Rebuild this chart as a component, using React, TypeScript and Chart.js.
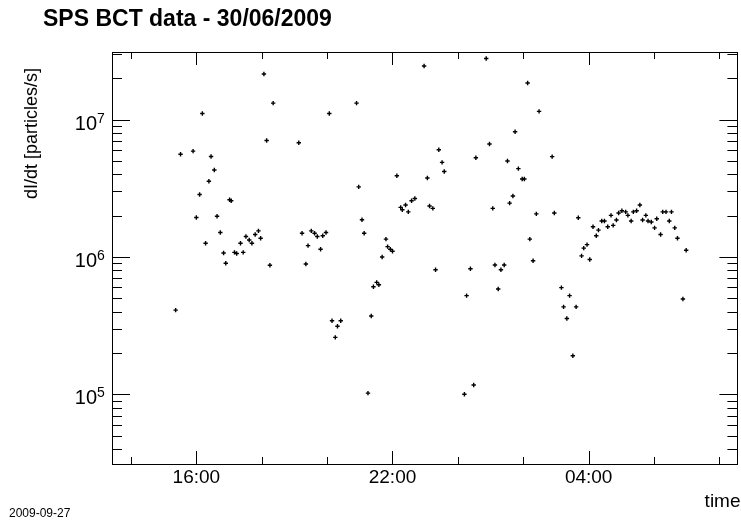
import React, { useEffect, useRef } from 'react';
import { Chart, registerables } from 'chart.js';

Chart.register(...registerables);

const TITLE = 'SPS BCT data - 30/06/2009';
const Y_TITLE = 'dI/dt [particles/s]';
const X_TITLE = 'time';
const DATE_STAMP = '2009-09-27';

// measurement times (30/06 -> 01/07, wraps past midnight)
const times = [
  '15:22', '15:31', '15:54', '16:00', '16:06', '16:11', '16:17', '16:23', '16:27', '16:33',
  '16:38', '16:44', '16:50', '16:54', '17:01', '17:04', '17:10', '17:14', '17:21', '17:26',
  '17:31', '17:37', '17:42', '17:48', '17:54', '17:58', '18:04', '18:09', '18:15', '18:21',
  '19:08', '19:14', '19:21', '19:25', '19:31', '19:37', '19:42', '19:48', '19:52', '19:58',
  '20:04', '20:09', '20:15', '20:19', '20:25', '20:54', '20:58', '21:04', '21:08', '21:15',
  '21:21', '21:25', '21:31', '21:35', '21:41', '21:48', '21:51', '21:56', '22:00', '22:08',
  '22:15', '22:18', '22:24', '22:29', '22:35', '22:41', '22:58', '23:04', '23:08', '23:14',
  '23:19', '23:25', '23:31', '23:35', '00:12', '00:16', '00:23', '00:29', '00:33', '00:52',
  '00:58', '01:04', '01:08', '01:14', '01:19', '01:25', '01:31', '01:35', '01:41', '01:45',
  '01:51', '01:58', '02:02', '02:08', '02:12', '02:18', '02:24', '02:29', '02:53', '02:57',
  '03:10', '03:14', '03:20', '03:25', '03:31', '03:37', '03:41', '03:47', '03:51', '03:57',
  '04:02', '04:08', '04:14', '04:18', '04:24', '04:29', '04:35', '04:41', '04:45', '04:51',
  '04:55', '05:01', '05:08', '05:12', '05:18', '05:22', '05:28', '05:34', '05:39', '05:45',
  '05:49', '05:55', '06:01', '06:05', '06:12', '06:16', '06:22', '06:28', '06:32', '06:38',
  '06:43', '06:53', '06:59',
];

// dI/dt values [particles/s]
const values = [
  4.1e5, 5.6e6, 5.9e6, 1.94e6, 2.85e6, 1.11e7, 1.26e6, 3.56e6, 5.4e6, 4.3e6,
  1.98e6, 1.51e6, 1.07e6, 9.0e5, 2.61e6, 2.57e6, 1.08e6, 1.06e6, 1.26e6, 1.08e6,
  1.41e6, 1.33e6, 1.26e6, 1.46e6, 1.55e6, 1.37e6, 2.15e7, 7.06e6, 8.7e5, 1.32e7,
  6.8e6, 1.49e6, 8.9e5, 1.21e6, 1.55e6, 1.49e6, 1.41e6, 1.14e6, 1.43e6, 1.51e6,
  1.11e7, 3.43e5, 2.6e5, 3.13e5, 3.43e5, 1.32e7, 3.24e6, 1.87e6, 1.49e6, 1.02e5,
  3.72e5, 6.08e5, 6.53e5, 6.28e5, 1.0e6, 1.35e6, 1.19e6, 1.14e6, 1.1e6, 3.91e6,
  2.3e6, 2.21e6, 2.39e6, 2.13e6, 2.57e6, 2.67e6, 2.46e7, 3.76e6, 2.35e6, 2.26e6,
  8.08e5, 6.04e6, 4.89e6, 4.2e6, 1.0e5, 5.23e5, 8.22e5, 1.17e5, 5.28e6, 2.79e7,
  6.65e6, 2.26e6, 8.74e5, 5.85e5, 8.08e5, 8.74e5, 5.0e6, 2.47e6, 2.78e6, 8.18e6,
  4.4e6, 3.7e6, 3.7e6, 1.85e7, 1.35e6, 9.4e5, 2.06e6, 1.15e7, 5.38e6, 2.09e6,
  5.98e5, 4.33e5, 3.57e5, 5.23e5, 1.91e5, 4.33e5, 1.93e6, 1.02e6, 1.16e6, 1.23e6,
  9.6e5, 1.66e6, 1.43e6, 1.57e6, 1.83e6, 1.83e6, 1.66e6, 2.01e6, 1.7e6, 1.86e6,
  2.09e6, 2.17e6, 2.13e6, 2.01e6, 1.83e6, 2.13e6, 2.17e6, 2.39e6, 1.86e6, 2.01e6,
  1.83e6, 1.8e6, 1.63e6, 1.9e6, 1.46e6, 2.13e6, 2.13e6, 1.83e6, 2.13e6, 1.63e6,
  1.37e6, 4.94e5, 1.12e6,
];

// axis ranges (hours since 00:00 on 30/06; values in particles/s)
const X_MIN = 13.42;
const X_MAX = 32.55;
const Y_MIN = 3.108e4;
const Y_MAX = 3.112e7;
const X_MAJOR_HOURS = [16, 22, 28];
const X_MINOR_STEP = 2;
const Y_DECADES = [5, 6, 7];

const FONT = '"Liberation Sans", Arial, Helvetica, sans-serif';

function toHours(list: string[]): number[] {
  let day = 0;
  let prev = -Infinity;
  return list.map((t) => {
    const [h, m] = t.split(':').map(Number);
    let v = h + m / 60 + day * 24;
    if (v < prev) {
      day += 1;
      v += 24;
    }
    prev = v;
    return v;
  });
}

function fmtHour(v: number): string {
  const h = ((Math.round(v) % 24) + 24) % 24;
  return (h < 10 ? '0' : '') + h + ':00';
}

const rootPlugin = {
  id: 'rootStyle',
  afterDraw(chart: any) {
    const { ctx, chartArea: a, scales } = chart;
    const xs = scales.x;
    const ys = scales.y;
    ctx.save();
    ctx.strokeStyle = '#000';
    ctx.fillStyle = '#000';
    ctx.lineWidth = 1;

    // frame
    ctx.strokeRect(Math.round(a.left) + 0.5, Math.round(a.top) + 0.5,
      Math.round(a.right - a.left), Math.round(a.bottom - a.top));

    // x ticks (bottom and top, inward)
    ctx.beginPath();
    for (let h = Math.ceil(X_MIN / X_MINOR_STEP) * X_MINOR_STEP; h <= X_MAX; h += X_MINOR_STEP) {
      const px = Math.round(xs.getPixelForValue(h)) + 0.5;
      const major = X_MAJOR_HOURS.includes(h);
      const len = major ? 13 : 7;
      ctx.moveTo(px, a.bottom);
      ctx.lineTo(px, a.bottom - len);
      ctx.moveTo(px, a.top);
      ctx.lineTo(px, a.top + len);
    }
    // y ticks (left and right, inward)
    for (let d = 4; d <= 7; d++) {
      for (let m = 1; m <= 9; m++) {
        const v = m * Math.pow(10, d);
        if (v < Y_MIN || v > Y_MAX) continue;
        const py = Math.round(ys.getPixelForValue(v)) + 0.5;
        const len = m === 1 ? 18 : 10;
        ctx.moveTo(a.left, py);
        ctx.lineTo(a.left + len, py);
        ctx.moveTo(a.right, py);
        ctx.lineTo(a.right - len, py);
      }
    }
    ctx.stroke();

    // y tick labels 10^n
    for (const d of Y_DECADES) {
      const py = ys.getPixelForValue(Math.pow(10, d));
      const xEnd = a.left - 15;
      ctx.font = '20px ' + FONT;
      ctx.textAlign = 'right';
      ctx.textBaseline = 'alphabetic';
      ctx.fillText('10', xEnd, py + 10);
      ctx.font = '14px ' + FONT;
      ctx.textAlign = 'left';
      ctx.fillText(String(d), xEnd, py + 3);
    }

    // title
    ctx.font = 'bold 23px ' + FONT;
    ctx.textAlign = 'left';
    ctx.textBaseline = 'alphabetic';
    ctx.fillText(TITLE, 43, 26);

    // y axis title
    ctx.save();
    ctx.translate(37, 199);
    ctx.rotate(-Math.PI / 2);
    ctx.font = '18px ' + FONT;
    ctx.textAlign = 'left';
    ctx.fillText(Y_TITLE, 0, 0);
    ctx.restore();

    // x axis title
    ctx.font = '19px ' + FONT;
    ctx.textAlign = 'right';
    ctx.fillText(X_TITLE, 740.5, 507);

    // date stamp
    ctx.font = '12px ' + FONT;
    ctx.textAlign = 'left';
    ctx.fillText(DATE_STAMP, 9, 517);

    ctx.restore();
  },
};

export default function App() {
  const ref = useRef<HTMLCanvasElement>(null);

  useEffect(() => {
    if (!ref.current) return;
    const hours = toHours(times);
    const points = hours.map((x, i) => ({ x, y: values[i] }));
    const chart = new Chart(ref.current, {
      type: 'scatter',
      data: {
        datasets: [
          {
            data: points,
            pointStyle: 'cross',
            pointRadius: 2.2,
            pointHoverRadius: 2.2,
            borderWidth: 1.4,
            borderColor: '#000',
            backgroundColor: '#000',
            showLine: false,
          },
        ],
      },
      options: {
        animation: false,
        responsive: false,
        devicePixelRatio: 1,
        events: [],
        layout: { padding: { left: 0, top: 52, right: 1, bottom: 0 } },
        plugins: {
          legend: { display: false },
          tooltip: { enabled: false },
          title: { display: false },
        },
        scales: {
          x: {
            type: 'linear',
            position: 'bottom',
            min: X_MIN,
            max: X_MAX,
            grid: { display: false, drawTicks: false },
            border: { display: false },
            ticks: {
              stepSize: X_MINOR_STEP,
              includeBounds: false,
              autoSkip: false,
              maxRotation: 0,
              minRotation: 0,
              padding: 2,
              color: '#000',
              font: { family: FONT, size: 19 },
              callback: (v: any) => {
                const n = Number(v);
                return X_MAJOR_HOURS.some((h) => Math.abs(h - n) < 1e-6) ? fmtHour(n) : '';
              },
            },
            afterFit: (s: any) => {
              s.height = 59;
            },
          },
          y: {
            type: 'logarithmic',
            position: 'left',
            min: Y_MIN,
            max: Y_MAX,
            grid: { display: false },
            border: { display: false },
            ticks: { display: false },
            afterFit: (s: any) => {
              s.width = 112;
            },
          },
        },
      },
      plugins: [rootPlugin],
    });
    return () => chart.destroy();
  }, []);

  return (
    <div style={{ position: 'absolute', left: 0, top: 0, width: 741, height: 523, background: '#fff' }}>
      <canvas ref={ref} width={741} height={523} style={{ display: 'block' }} />
    </div>
  );
}
